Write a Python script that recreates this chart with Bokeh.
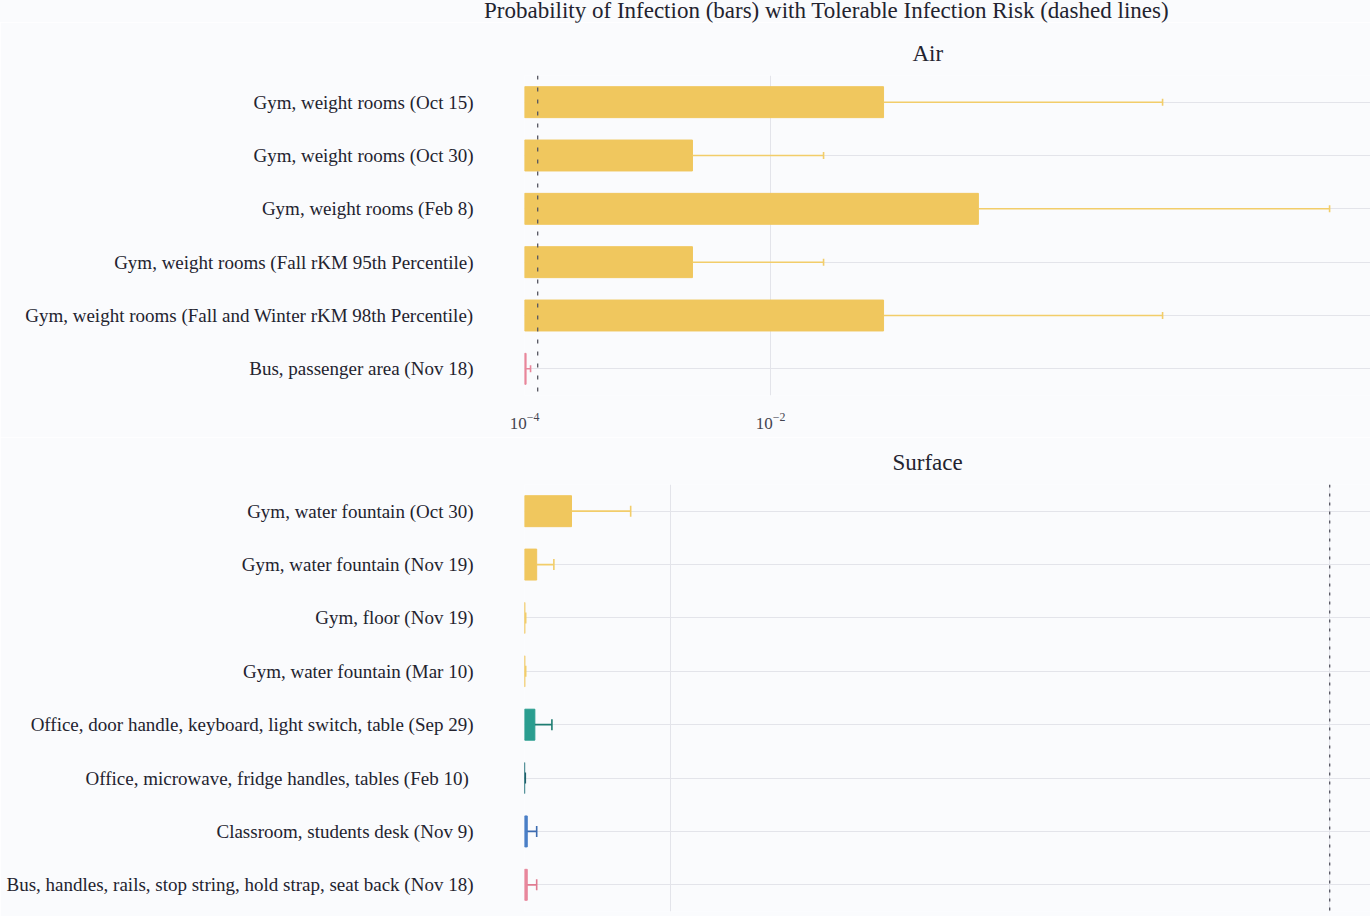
from bokeh.plotting import figure
from bokeh.models import FactorRange, FixedTicker, Span, Range1d, Div
from bokeh.layouts import column
from bokeh.embed import file_html
from bokeh.resources import INLINE

# ---------------- data ----------------
main_title = "Probability of Infection (bars) with Tolerable Infection Risk (dashed lines)"

air_labels = [
    "Gym, weight rooms (Oct 15)",
    "Gym, weight rooms (Oct 30)",
    "Gym, weight rooms (Feb 8)",
    "Gym, weight rooms (Fall rKM 95th Percentile)",
    "Gym, weight rooms (Fall and Winter rKM 98th Percentile)",
    "Bus, passenger area (Nov 18)",
]
air_values = [0.083, 0.00232, 0.49, 0.00232, 0.083, 1.03e-4]
air_upper = [15.4, 0.027, 351.0, 0.027, 15.4, 1.12e-4]
air_colors = ["#F0C75E", "#F0C75E", "#F0C75E", "#F0C75E", "#F0C75E", "#E8879C"]
air_err_colors = ["#F2CD6A", "#F2CD6A", "#F2CD6A", "#F2CD6A", "#F2CD6A", "#E8879C"]
air_tolerable = 1.28e-4
air_ticks = [1e-4, 1e-2]

surface_labels = [
    "Gym, water fountain (Oct 30)",
    "Gym, water fountain (Nov 19)",
    "Gym, floor (Nov 19)",
    "Gym, water fountain (Mar 10)",
    "Office, door handle, keyboard, light switch, table (Sep 29)",
    "Office, microwave, fridge handles, tables  (Feb 10)",
    "Classroom, students desk (Nov 9)",
    "Bus, handles, rails, stop string, hold strap, seat back (Nov 18)",
]
surface_values = [5.0e-7, 3.92e-7, 3.61e-7, 3.61e-7, 3.87e-7, 3.605e-7, 3.67e-7, 3.67e-7]
surface_upper = [7.56e-7, 4.42e-7, 3.63e-7, 3.63e-7, 4.36e-7, 3.62e-7, 3.92e-7, 3.92e-7]
surface_colors = ["#F0C75E", "#F0C75E", "#F0C75E", "#F0C75E", "#2A9D8F", "#1F6F78", "#4A7FC6", "#E8879C"]
surface_err_colors = ["#F2CD6A", "#F2CD6A", "#F2CD6A", "#F2CD6A", "#1E7D72", "#1F5F6A", "#3C6BB0", "#E07B91"]
surface_tolerable = 1e-4
surface_ticks = [1e-6, 1e-4]

# ---------------- style ----------------
BG = "#fafbfd"
FONT = "Liberation Serif"
TXT = "#23232f"
GRID = "#e3e4ea"


def style(p):
    p.background_fill_color = BG
    p.border_fill_color = BG
    p.outline_line_color = None
    p.yaxis.axis_line_color = None
    p.yaxis.major_tick_line_color = None
    p.yaxis.minor_tick_line_color = None
    p.yaxis.major_label_text_font = FONT
    p.yaxis.major_label_text_font_size = "19px"
    p.yaxis.major_label_text_color = TXT
    p.yaxis.major_label_standoff = 45
    p.xaxis.axis_line_color = None
    p.xaxis.major_tick_line_color = None
    p.xaxis.minor_tick_line_color = None
    p.xaxis.major_label_text_font = FONT
    p.xaxis.major_label_text_font_size = "17px"
    p.xaxis.major_label_text_color = "#444450"
    p.xaxis.major_label_standoff = 11
    p.xgrid.grid_line_color = GRID
    p.ygrid.grid_line_color = GRID
    p.xgrid.minor_grid_line_color = None
    p.title.text_font = FONT
    p.title.text_font_size = "23px"
    p.title.text_font_style = "normal"
    p.title.text_color = TXT
    p.title.align = "left"
    p.title.standoff = 19


def panel(p, labels, values, upper, colors, err_colors, base, cap, err_w):
    p.hbar(y=labels, left=base, right=values, height=0.58, fill_color=colors, line_color=colors)
    p.segment(x0=values, y0=labels, x1=upper, y1=labels, line_color=err_colors, line_width=err_w)
    p.scatter(x=upper, y=labels, marker="dash", angle=1.5708, size=cap,
              line_color=err_colors, line_width=1.6)


# ---------------- main title ----------------
head = Div(text=main_title, width=1370, height=22, margin=(0, 0, 0, 0),
           styles={"padding-left": "484px", "font-family": FONT, "font-size": "23px",
                   "line-height": "22px", "color": TXT, "background-color": BG,
                   "white-space": "nowrap", "box-sizing": "border-box", "width": "1370px"})

# ---------------- Air ----------------
air_base = 1e-4
p1 = figure(width=1370, height=415, x_axis_type="log",
            x_range=Range1d(air_base, 755), y_range=FactorRange(*reversed(air_labels)),
            output_backend="svg", toolbar_location=None,
            min_border_left=524, min_border_right=0, min_border_top=53, min_border_bottom=42,
            title="Air")
style(p1)
p1.title.offset = 388
p1.xaxis.ticker = FixedTicker(ticks=air_ticks, minor_ticks=[])
panel(p1, air_labels, air_values, air_upper, air_colors, air_err_colors, air_base, 7, 1.5)
p1.add_layout(Span(location=air_tolerable, dimension="height", line_dash="4 8",
                   line_color="#555560", line_width=1.3))

# ---------------- Surface ----------------
surf_base = 3.6e-7
p2 = figure(width=1370, height=479, x_axis_type="log",
            x_range=Range1d(surf_base, 1.33e-4), y_range=FactorRange(*reversed(surface_labels)),
            output_backend="svg", toolbar_location=None,
            min_border_left=524, min_border_right=0, min_border_top=47, min_border_bottom=5,
            title="Surface")
style(p2)
p2.title.offset = 368
p2.xaxis.ticker = FixedTicker(ticks=surface_ticks, minor_ticks=[])
p2.xaxis.visible = False
panel(p2, surface_labels, surface_values, surface_upper, surface_colors, surface_err_colors,
      surf_base, 11, 1.8)
p2.add_layout(Span(location=surface_tolerable, dimension="height", line_dash="3 6",
                   line_color="#555560", line_width=1.3))

layout = column(head, p1, p2, spacing=0)
open("out.html", "w").write(file_html(layout, INLINE))
